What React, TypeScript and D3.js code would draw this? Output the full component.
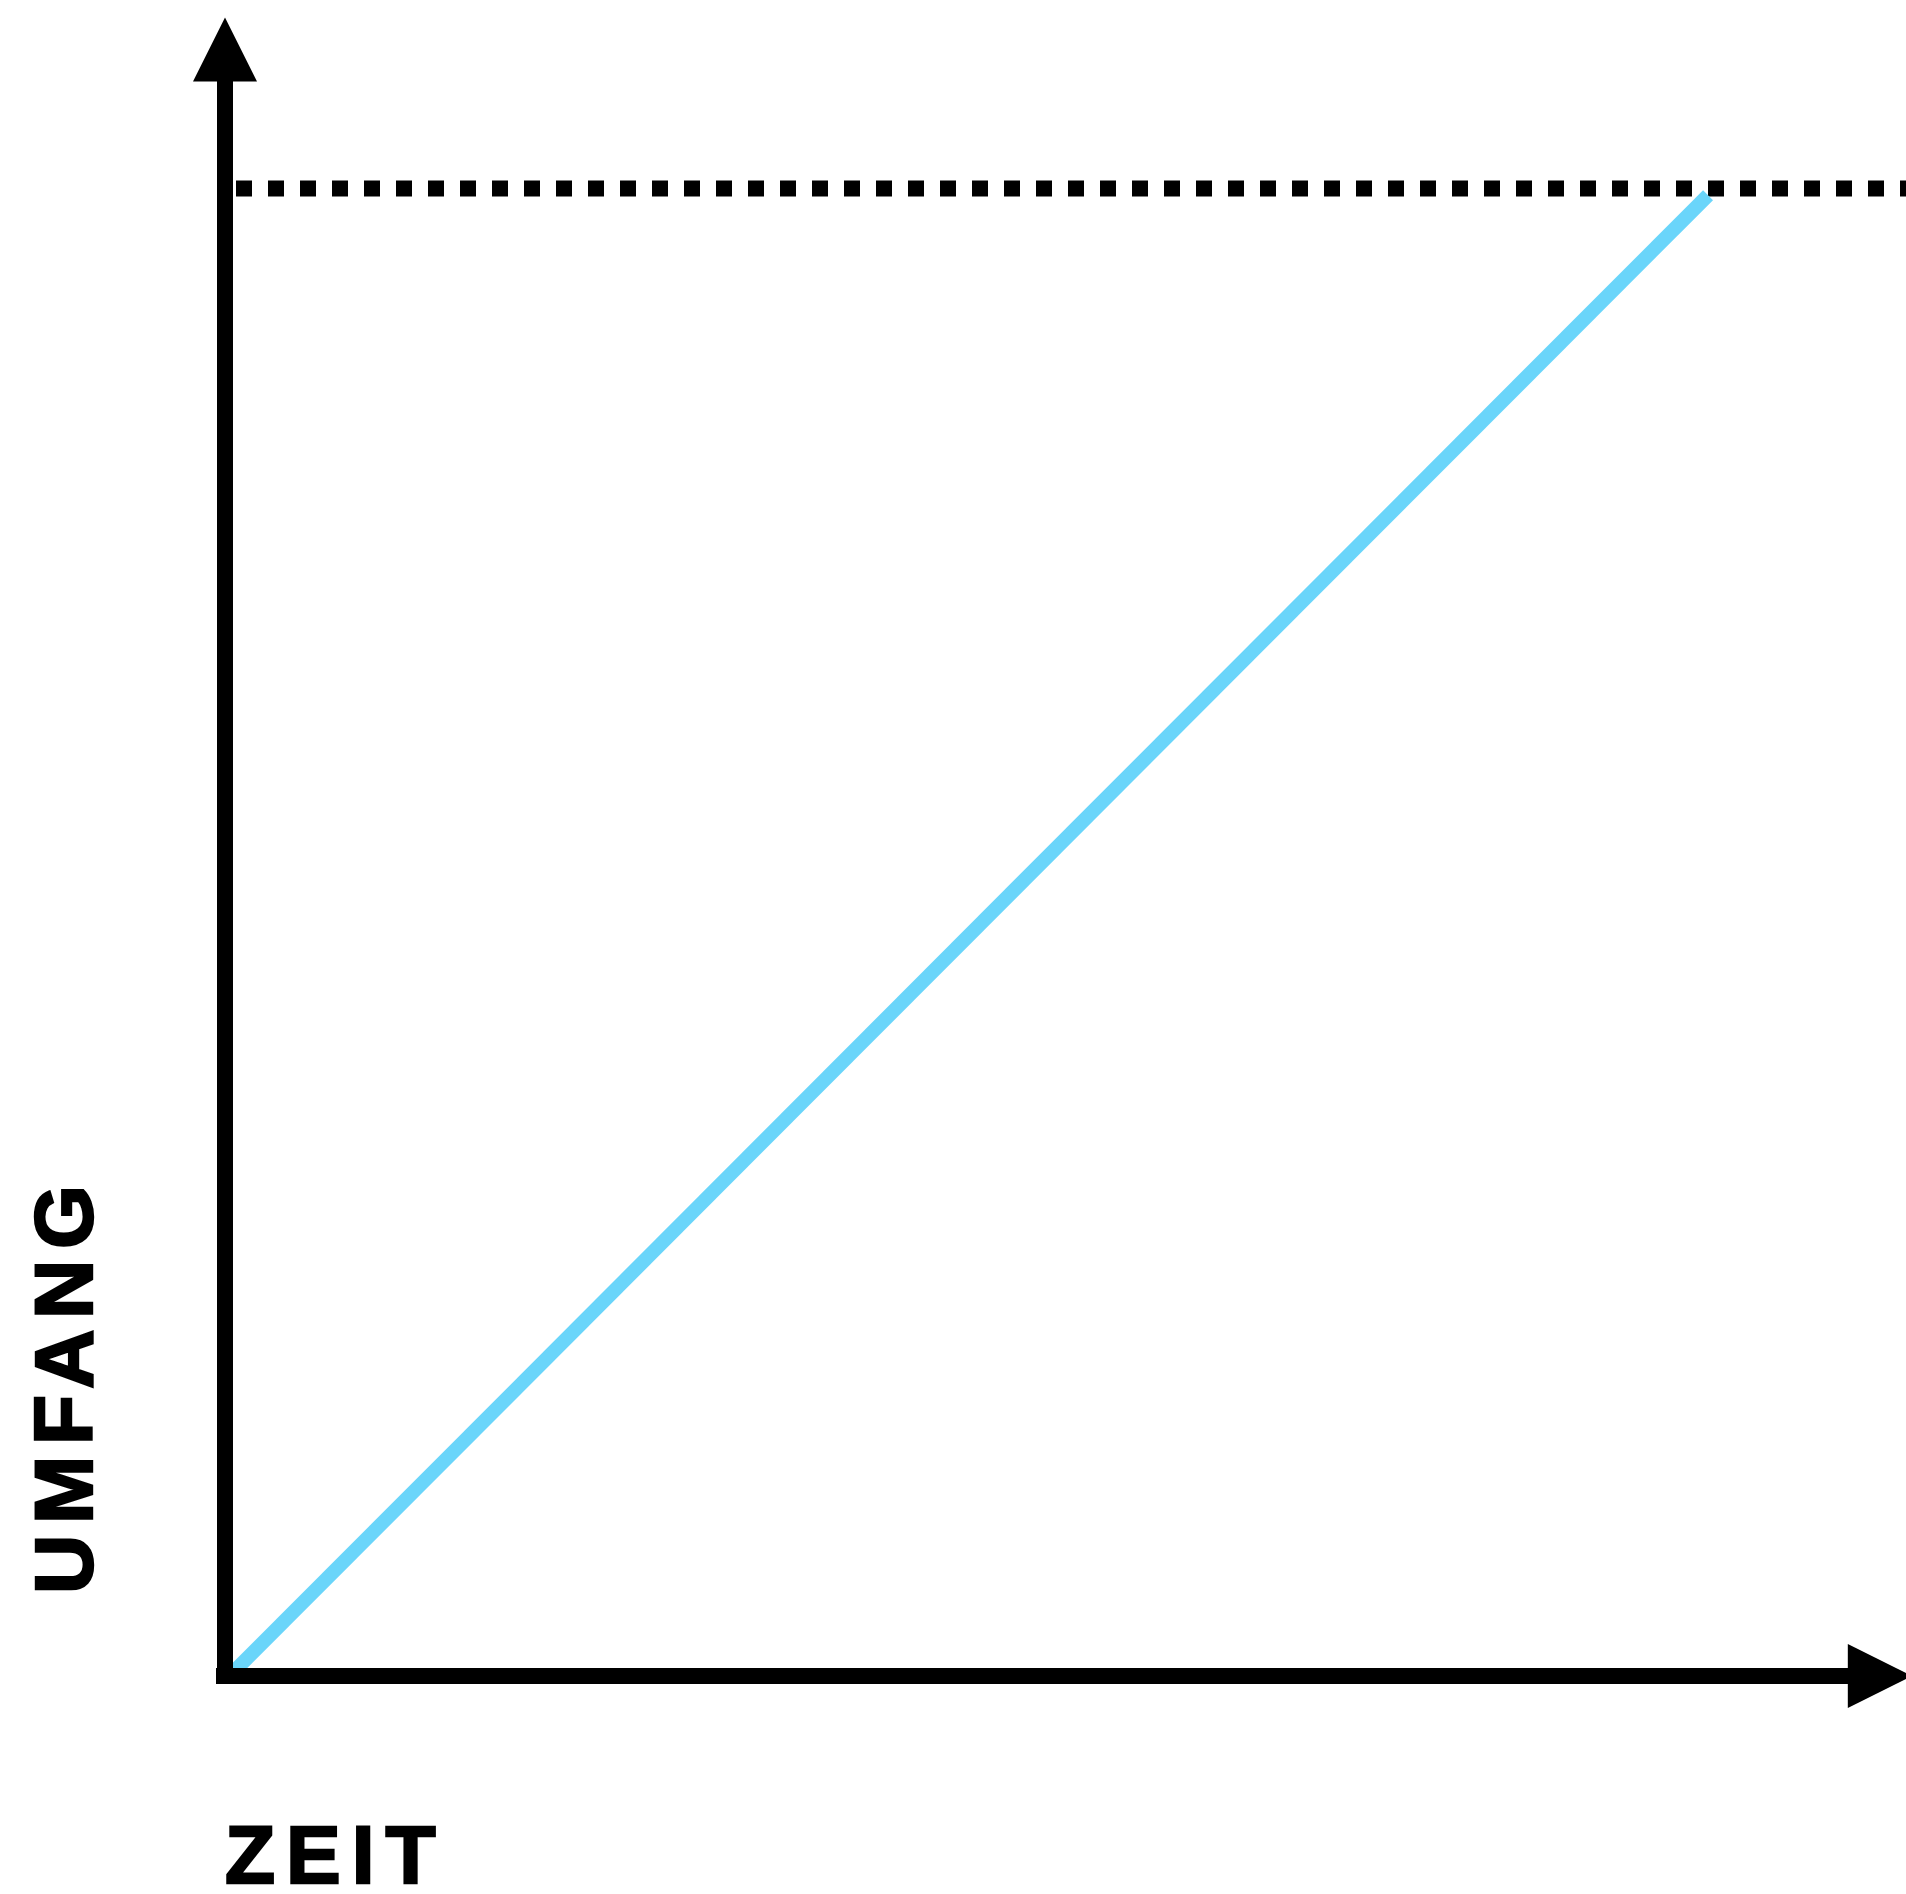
import React, { useEffect, useRef } from "react";
import * as d3 from "d3";

// Scope (Umfang) over time (Zeit): a linear ramp up to a fixed limit
const timeDomain = [0, 100];
const scopeDomain = [0, 100];
const scopeLimit = [100];
const rampTime = [0.3, 99.7];
const rampScope = [0, 99.55];
const axisEnd = { time: 113.4, scope: 111.5 };
const xLabel = "ZEIT";
const yLabel = "UMFANG";

const WIDTH = 1906;
const HEIGHT = 1894;

const ScopeChart: React.FC = () => {
  const ref = useRef<SVGSVGElement | null>(null);

  useEffect(() => {
    if (!ref.current) return;
    const svg = d3.select(ref.current);
    svg.selectAll("*").remove();

    const x = d3.scaleLinear().domain(timeDomain).range([225, 1712.5]);
    const y = d3.scaleLinear().domain(scopeDomain).range([1676, 188.5]);

    const stroke = 16;
    const head = 64;

    // limit (dotted)
    svg
      .append("g")
      .selectAll("line")
      .data(scopeLimit)
      .join("line")
      .attr("x1", x(0) + 11)
      .attr("x2", WIDTH)
      .attr("y1", (d) => y(d))
      .attr("y2", (d) => y(d))
      .attr("stroke", "#000")
      .attr("stroke-width", stroke)
      .attr("stroke-dasharray", "16 16");

    // ramp
    const pts = rampTime.map((t, i) => [t, rampScope[i]] as [number, number]);
    const line = d3
      .line<[number, number]>()
      .x((d) => x(d[0]))
      .y((d) => y(d[1]));
    svg
      .append("path")
      .attr("d", line(pts)!)
      .attr("fill", "none")
      .attr("stroke", "#6AD5FA")
      .attr("stroke-width", 14);

    // axes
    const x0 = x(0);
    const y0 = y(0);
    const yTip = y(axisEnd.scope);
    const xTip = x(axisEnd.time);

    svg
      .append("line")
      .attr("x1", x0)
      .attr("x2", x0)
      .attr("y1", y0 + stroke / 2)
      .attr("y2", yTip + head - 1)
      .attr("stroke", "#000")
      .attr("stroke-width", stroke);
    svg
      .append("path")
      .attr(
        "d",
        `M${x0},${yTip}L${x0 + head / 2},${yTip + head}L${x0 - head / 2},${yTip + head}Z`
      )
      .attr("fill", "#000");

    svg
      .append("line")
      .attr("x1", x0 - stroke / 2 - 1)
      .attr("x2", xTip - head + 1)
      .attr("y1", y0)
      .attr("y2", y0)
      .attr("stroke", "#000")
      .attr("stroke-width", stroke);
    svg
      .append("path")
      .attr(
        "d",
        `M${xTip},${y0}L${xTip - head},${y0 - head / 2}L${xTip - head},${y0 + head / 2}Z`
      )
      .attr("fill", "#000");

    // labels
    const label = (sel: d3.Selection<SVGTextElement, unknown, null, undefined>) =>
      sel
        .attr("font-family", "'Liberation Sans', Arial, sans-serif")
        .attr("font-weight", "bold")
        .attr("font-size", 82)
        .attr("fill", "#000")
        .attr("stroke", "#000")
        .attr("stroke-width", 2.4)
        .attr("stroke-linejoin", "miter");

    svg
      .append("text")
      .attr("x", 225)
      .attr("y", 1883)
      .attr("letter-spacing", 11)
      .call(label)
      .text(xLabel);

    svg
      .append("text")
      .attr("transform", "translate(92,1594) rotate(-90)")
      .attr("letter-spacing", 10.7)
      .call(label)
      .text(yLabel);
  }, []);

  return (
    <div style={{ position: "absolute", left: 0, top: 0 }}>
      <svg ref={ref} width={WIDTH} height={HEIGHT} style={{ display: "block", background: "#fff" }}></svg>
    </div>
  );
};

export default function App() {
  return <ScopeChart />;
}
